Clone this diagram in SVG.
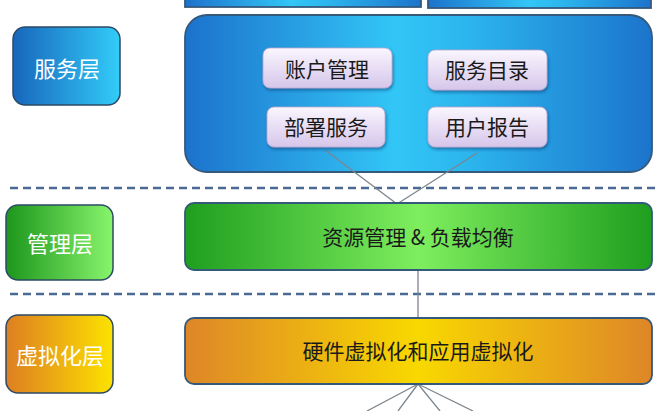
<svg xmlns="http://www.w3.org/2000/svg" width="658" height="411" viewBox="0 0 658 411">
<defs>
<linearGradient id="gBlueMain" x1="0" y1="0" x2="1" y2="0">
<stop offset="0" stop-color="#1c72cc"/>
<stop offset="0.45" stop-color="#32c6f6"/>
<stop offset="0.6" stop-color="#2cb6ee"/>
<stop offset="1" stop-color="#1c74cc"/>
</linearGradient>
<linearGradient id="gBlueLbl" x1="0" y1="0" x2="1" y2="0">
<stop offset="0" stop-color="#1866bc"/>
<stop offset="1" stop-color="#32ccf8"/>
</linearGradient>
<linearGradient id="gGreenMain" x1="0" y1="0" x2="1" y2="0">
<stop offset="0" stop-color="#1f9e1f"/>
<stop offset="0.5" stop-color="#7eee5e"/>
<stop offset="1" stop-color="#1f9e1f"/>
</linearGradient>
<linearGradient id="gGreenLbl" x1="0" y1="0" x2="1" y2="0">
<stop offset="0" stop-color="#1c961c"/>
<stop offset="1" stop-color="#88f46c"/>
</linearGradient>
<linearGradient id="gOrangeMain" x1="0" y1="0" x2="1" y2="0">
<stop offset="0" stop-color="#de8628"/>
<stop offset="0.5" stop-color="#f8d800"/>
<stop offset="1" stop-color="#de8628"/>
</linearGradient>
<linearGradient id="gOrangeLbl" x1="0" y1="0" x2="1" y2="0">
<stop offset="0" stop-color="#de7e22"/>
<stop offset="1" stop-color="#fce200"/>
</linearGradient>
<linearGradient id="gLav" x1="0" y1="0" x2="0" y2="1">
<stop offset="0" stop-color="#faf6fe"/>
<stop offset="1" stop-color="#d6c6ea"/>
</linearGradient>
<filter id="shadow" x="-10%" y="-10%" width="120%" height="140%">
<feDropShadow dx="1" dy="2" stdDeviation="1.5" flood-color="#103a70" flood-opacity="0.55"/>
</filter>
</defs>
<style>
.main{stroke:#35597a;stroke-width:1.8}
.lbl{stroke:#2c4a66;stroke-width:1.5}
.inner{fill:url(#gLav);stroke:#b8a8d0;stroke-width:0.8;filter:url(#shadow)}
.wt{font-family:"Noto Sans CJK SC","Noto Sans",sans-serif;font-size:22px;fill:#ffffff;text-anchor:middle;dominant-baseline:central}
.bt{font-family:"Noto Sans CJK SC","Noto Sans",sans-serif;font-size:21px;fill:#1a1a1a;text-anchor:middle;dominant-baseline:central}
.dash{stroke:#4a6a92;stroke-width:2.6;stroke-dasharray:8 5;fill:none}
.conn{stroke:#7c868e;stroke-width:1.3;fill:none}
</style>
<rect width="658" height="411" fill="#ffffff"/>

<g id="top-boxes">
<rect x="185" y="-20" width="236" height="27" class="main" fill="url(#gBlueMain)"/>
<rect x="428" y="-20" width="223" height="28" class="main" fill="url(#gBlueMain)"/>
</g>

<g id="dividers">
<line x1="10" y1="188" x2="658" y2="188" class="dash"/>
<line x1="10" y1="294" x2="658" y2="294" class="dash"/>
</g>

<g id="service-main">
<rect x="185" y="15" width="467" height="157" rx="22" class="main" fill="url(#gBlueMain)"/>
</g>

<g id="connectors">
<line x1="325" y1="150" x2="397" y2="204" class="conn"/>
<line x1="477" y1="153" x2="397" y2="204" class="conn"/>
<line x1="418" y1="270" x2="418" y2="318" class="conn"/>
<line x1="428" y1="369" x2="418" y2="384" class="conn"/>
<line x1="418" y1="384" x2="367" y2="411" class="conn"/>
<line x1="418" y1="384" x2="398" y2="411" class="conn"/>
<line x1="418" y1="384" x2="440" y2="411" class="conn"/>
<line x1="418" y1="384" x2="473" y2="411" class="conn"/>
</g>

<g id="lbl-service">
<rect x="13" y="27" width="107" height="78" rx="12" class="lbl" fill="url(#gBlueLbl)"/>
<text x="67" y="67" class="wt">服务层</text>
</g>

<g id="node-account">
<rect x="263" y="48" width="129" height="40" rx="7" class="inner"/>
<text x="327" y="68" class="bt">账户管理</text>
</g>
<g id="node-catalog">
<rect x="428" y="50" width="119" height="40" rx="7" class="inner"/>
<text x="487" y="69" class="bt">服务目录</text>
</g>
<g id="node-deploy">
<rect x="267" y="107" width="118" height="40" rx="7" class="inner"/>
<text x="326" y="126" class="bt">部署服务</text>
</g>
<g id="node-report">
<rect x="428" y="107" width="119" height="40" rx="7" class="inner"/>
<text x="487" y="126" class="bt">用户报告</text>
</g>

<g id="lbl-manage">
<rect x="6" y="205" width="107" height="75" rx="12" class="lbl" fill="url(#gGreenLbl)"/>
<text x="60" y="242" class="wt">管理层</text>
</g>
<g id="node-resource">
<rect x="185" y="203" width="467" height="67" rx="9" class="main" fill="url(#gGreenMain)"/>
<text x="418" y="236" class="bt">资源管理 &amp; 负载均衡</text>
</g>

<g id="lbl-virtual">
<rect x="6" y="315" width="107" height="78" rx="12" class="lbl" fill="url(#gOrangeLbl)"/>
<text x="60" y="354" class="wt">虚拟化层</text>
</g>
<g id="node-virtual">
<rect x="185" y="318" width="467" height="66" rx="9" class="main" fill="url(#gOrangeMain)"/>
<text x="418" y="350" class="bt">硬件虚拟化和应用虚拟化</text>
</g>
</svg>
